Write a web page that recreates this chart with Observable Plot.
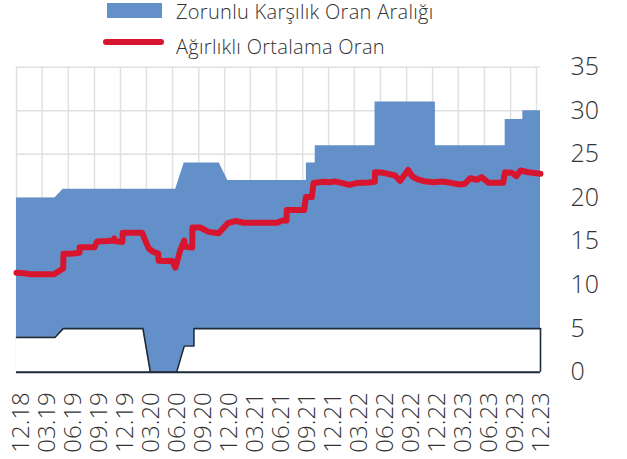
<!DOCTYPE html>
<html>
<head>
<meta charset="utf-8">
<script src="https://cdn.jsdelivr.net/npm/d3@7"></script>
<script src="https://cdn.jsdelivr.net/npm/@observablehq/plot@0.6"></script>
<style>
  html, body { margin: 0; padding: 0; background: #fff; }
  #wrap { width: 627px; font-family: "Open Sans", sans-serif; color: #333; }
  #legend { position: relative; width: 627px; height: 56px; }
  .lg-text { position: absolute; left: 176px; font-size: 20px; letter-spacing: 0.3px; font-weight: 300; white-space: nowrap; line-height: 1.1; color: #333; }
  .sw { position: absolute; }
  svg { display: block; }
</style>
</head>
<body>
<div id="wrap">
  <div id="legend"></div>
  <div id="chart"></div>
</div>
<script>
// ---- Data ----
const seriesNames = ["Zorunlu Karşılık Oran Aralığı", "Ağırlıklı Ortalama Oran"];
const xTickLabels = ["12.18","03.19","06.19","09.19","12.19","03.20","06.20","09.20","12.20","03.21","06.21","09.21","12.21","03.22","06.22","09.22","12.22","03.23","06.23","09.23","12.23"];
const yTicks = [0, 5, 10, 15, 20, 25, 30, 35];

// Upper bound of required reserve ratio range
const upperDates = ["2018-12-01","2019-04-15","2019-05-14","2020-06-12","2020-07-12","2020-11-12","2020-12-12","2021-09-14","2021-09-14","2021-10-15","2021-10-15","2022-05-13","2022-05-13","2022-12-11","2022-12-11","2023-08-13","2023-08-13","2023-10-14","2023-10-14","2023-12-15"];
const upperValues = [20,20,21,21,24,24,22,22,24,24,26,26,31,31,26,26,29,29,30,30];

// Lower bound of required reserve ratio range
const lowerDates = ["2018-12-01","2019-04-15","2019-05-14","2020-02-18","2020-03-15","2020-06-15","2020-07-12","2020-08-15","2020-08-15","2023-12-15"];
const lowerValues = [4,4,5,5,0,0,3,3,5,5];

// Weighted average ratio
const avgDates = ["2018-12-01","2018-12-28","2019-01-15","2019-04-12","2019-05-14","2019-05-15","2019-06-10","2019-07-10","2019-07-11","2019-09-01","2019-09-10","2019-10-15","2019-11-07","2019-11-09","2019-11-11","2019-12-08","2019-12-09","2020-02-06","2020-02-15","2020-03-09","2020-03-26","2020-04-12","2020-04-13","2020-05-01","2020-05-30","2020-06-11","2020-06-28","2020-07-12","2020-07-15","2020-08-09","2020-08-10","2020-09-06","2020-10-06","2020-11-10","2020-12-12","2021-01-09","2021-02-06","2021-06-03","2021-06-21","2021-07-06","2021-07-07","2021-09-06","2021-09-12","2021-10-03","2021-10-09","2021-11-15","2021-12-06","2021-12-24","2022-01-18","2022-02-12","2022-03-09","2022-04-21","2022-05-12","2022-05-13","2022-06-12","2022-07-22","2022-08-09","2022-09-06","2022-09-21","2022-10-12","2022-11-01","2022-12-06","2023-01-03","2023-02-03","2023-03-06","2023-03-24","2023-04-12","2023-05-06","2023-05-22","2023-06-03","2023-06-15","2023-08-06","2023-08-12","2023-09-06","2023-09-21","2023-10-06","2023-11-03","2023-12-15"];
const avgValues = [11.4,11.35,11.25,11.25,11.9,13.6,13.6,13.7,14.35,14.35,15.0,15.05,15.1,15.35,15.05,14.95,16.0,16.0,16.0,14.2,13.8,13.6,12.8,12.75,12.8,12.0,14.0,15.1,14.4,14.3,16.6,16.6,16.1,15.95,17.1,17.35,17.15,17.15,17.4,17.4,18.6,18.6,20.1,20.1,21.7,21.85,21.8,21.9,21.7,21.5,21.7,21.77,21.85,22.95,22.88,22.57,21.95,23.2,22.46,22.1,21.92,21.8,21.88,21.73,21.54,21.62,22.26,22.08,22.38,22.08,21.73,21.73,22.95,22.88,22.5,23.15,22.95,22.77];

// ---- Styles ----
const BLUE = "#6490c9";
const RED = "#d7152f";
const DARK = "#1f2a3a";
const GRID = "#e0e0e0";

// ---- Build tables ----
const parse = d3.utcParse("%Y-%m-%d");
const upper = upperDates.map((d, i) => ({date: parse(d), value: upperValues[i]}));
const lower = lowerDates.map((d, i) => ({date: parse(d), value: lowerValues[i]}));
const avg = avgDates.map((d, i) => ({date: parse(d), value: avgValues[i]}));
const tickDates = xTickLabels.map(s => {
  const [mm, yy] = s.split(".");
  return new Date(Date.UTC(2000 + +yy, +mm - 1, 1));
});
const labelOf = new Map(tickDates.map((d, i) => [+d, xTickLabels[i]]));

// ---- Legend ----
const legend = document.getElementById("legend");
legend.innerHTML = `
  <div class="sw" style="left:107px;top:3px;width:55px;height:15px;background:${BLUE}"></div>
  <div class="lg-text" style="top:1px">${seriesNames[0]}</div>
  <div class="sw" style="left:103px;top:38.5px;width:61px;height:6px;border-radius:3px;background:${RED}"></div>
  <div class="lg-text" style="top:36px">${seriesNames[1]}</div>
`;

// ---- Chart ----
const chart = Plot.plot({
  width: 627,
  height: 403,
  marginLeft: 16,
  marginRight: 87,
  marginTop: 10.7,
  marginBottom: 87.3,
  style: {fontFamily: "Open Sans, sans-serif", color: "#333", background: "#fff", overflow: "visible"},
  x: {type: "utc", domain: [parse("2018-12-01"), upper[upper.length - 1].date]},
  y: {domain: [0, 35]},
  marks: [
    Plot.gridX(tickDates, {stroke: GRID, strokeOpacity: 1, strokeWidth: 1.5}),
    Plot.gridY(yTicks, {stroke: GRID, strokeOpacity: 1, strokeWidth: 1.5}),
    Plot.areaY(upper, {x: "date", y1: 0, y2: "value", fill: BLUE, curve: "linear"}),
    Plot.areaY(lower, {x: "date", y1: 0, y2: "value", fill: "#fff", curve: "linear"}),
    Plot.line(lower, {x: "date", y: "value", stroke: DARK, strokeWidth: 1.6}),
    Plot.ruleX([lower[lower.length - 1]], {x: "date", y1: 0, y2: "value", stroke: DARK, strokeWidth: 1.6}),
    Plot.ruleY([0], {stroke: DARK, strokeWidth: 2}),
    Plot.line(avg, {x: "date", y: "value", stroke: RED, strokeWidth: 6, strokeLinejoin: "round", strokeLinecap: "round"}),
    Plot.axisY(yTicks, {anchor: "right", tickSize: 0, tickPadding: 30, fontSize: 25, fontWeight: 300, textAnchor: "start", label: null}),
    Plot.axisX(tickDates, {anchor: "bottom", tickSize: 0, tickPadding: 20, tickRotate: -90, fontSize: 24, fontWeight: 300, dx: 5, tickFormat: d => labelOf.get(+d), label: null})
  ]
});
document.getElementById("chart").appendChild(chart);
</script>
</body>
</html>
